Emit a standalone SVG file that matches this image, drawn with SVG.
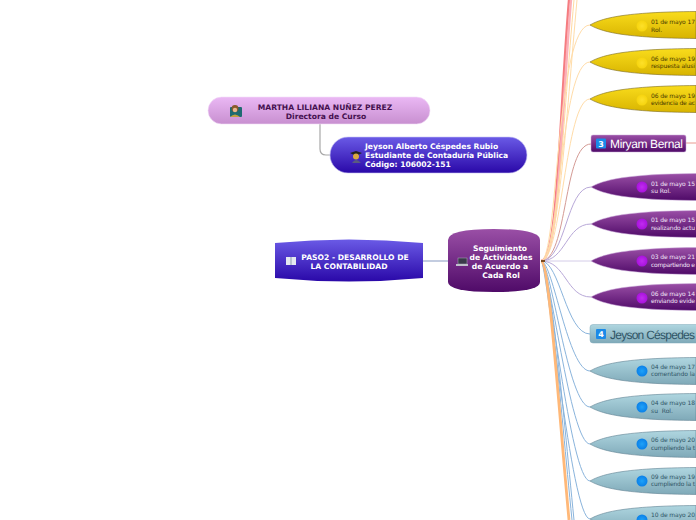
<svg xmlns="http://www.w3.org/2000/svg" width="696" height="520" viewBox="0 0 696 520">
<defs>
<linearGradient id="gY" x1="0" y1="0" x2="0" y2="1"><stop offset="0" stop-color="#f9dc1c"/><stop offset="1" stop-color="#d8b400"/></linearGradient>
<linearGradient id="gP" x1="0" y1="0" x2="0" y2="1"><stop offset="0" stop-color="#9a4fa6"/><stop offset="1" stop-color="#4f0a68"/></linearGradient>
<linearGradient id="gB" x1="0" y1="0" x2="0" y2="1"><stop offset="0" stop-color="#afd6e0"/><stop offset="1" stop-color="#7fa9b8"/></linearGradient>
<linearGradient id="gI" x1="0" y1="0" x2="0" y2="1"><stop offset="0" stop-color="#6a5ae6"/><stop offset="1" stop-color="#2a08a8"/></linearGradient>
<linearGradient id="gL" x1="0" y1="0" x2="0" y2="1"><stop offset="0" stop-color="#eab8f4"/><stop offset="1" stop-color="#c88fd0"/></linearGradient>
<radialGradient id="dY"><stop offset="0" stop-color="#fde02a"/><stop offset="1" stop-color="#f6d40e"/></radialGradient>
<radialGradient id="dP"><stop offset="0" stop-color="#c02cf0"/><stop offset="1" stop-color="#a812dc"/></radialGradient>
<radialGradient id="dB"><stop offset="0" stop-color="#1fa2f8"/><stop offset="1" stop-color="#0a80e8"/></radialGradient>
<path id="leaf" d="M0 0C12 -7 35 -13 106 -13.500V13.500C35 13 12 7 0 0Z"/>
</defs>
<style>
text{font-family:"DejaVu Sans",Verdana,sans-serif;text-rendering:geometricPrecision}
.b{font-size:7.600px;font-weight:700}
.s{font-size:6px}
.w{fill:#fff}
.c{fill:none}
.ly{fill:url(#gY);stroke:#7a6a20;stroke-width:.6}
.lp{fill:url(#gP);stroke:#c9a8d8;stroke-width:.5}
.lb{fill:url(#gB);stroke:#5f8292;stroke-width:.6}
.ty{fill:#4a3a00}
.tp{fill:#f3e4f8}
.tb{fill:#2f5566}
text.big{font-size:12px;font-family:"Liberation Sans",Arial,sans-serif}
</style>
<g id="connectors" class="c">
<path d="M320 124V149Q320 155 326 155H330" stroke="#a8a8a8" stroke-width="1.200"/>
<path d="M423 261H448" stroke="#c3cce0" stroke-width="2"/>
<path d="M541 261C558 261 559 120 569 0" stroke="#f57c80" stroke-width="2.400"/>
<path d="M541 261C559 261 561 120 571 0" stroke="#fbb0b8" stroke-width="2.400"/>
<path d="M541 261C558 261 563 120 574 0" stroke="#ffd9a0" stroke-width="1"/>
<path d="M541 261C558 261 566 120 577 0" stroke="#ffdca8" stroke-width="1"/>
<path d="M541 261C558 261 556 25 590 25" stroke="#ffdca8" stroke-width="1"/>
<path d="M541 261C560 261 560 62 590 62" stroke="#ffdca8" stroke-width="1"/>
<path d="M541 261C562 261 565 99 590 99" stroke="#ffdca8" stroke-width="1"/>
<path d="M541 261C568 261 563 144 591 144" stroke="#d49a94" stroke-width="1"/>
<path d="M686 143H696" stroke="#e89a90" stroke-width="1"/>
<path d="M541 261C566 261 566 187 591 187" stroke="#b8a8d8" stroke-width="1"/>
<path d="M541 261C566 261 566 224 591 224" stroke="#b8a8d8" stroke-width="1"/>
<path d="M541 261H591" stroke="#d4cce8" stroke-width="1"/>
<path d="M541 261C566 261 566 297 591 297" stroke="#b8a8d8" stroke-width="1"/>
<path d="M541 261C560 261 566 334 590 334" stroke="#8ab4dc" stroke-width="1"/>
<path d="M541 261C553 261 568 371 590 371" stroke="#8ab4dc" stroke-width="1"/>
<path d="M541 261C551 261 568 407 590 407" stroke="#8ab4dc" stroke-width="1"/>
<path d="M541 261C549 261 570 444 590 444" stroke="#8ab4dc" stroke-width="1"/>
<path d="M541 261C548 261 570 481 590 481" stroke="#8ab4dc" stroke-width="1"/>
<path d="M541 261C547 261 571 519 590 519" stroke="#8ab4dc" stroke-width="1"/>
<path d="M541 261C550 261 562 400 574 520" stroke="#8ab4dc" stroke-width="1"/>
<path d="M541 261C549 261 560 400 572 520" stroke="#8ab4dc" stroke-width="1"/>
<path d="M541 261C549 261 558 400 569 520" stroke="#ffb878" stroke-width="2.800"/>
<path d="M541 261H545" stroke="#7a4a20" stroke-width="2"/>
</g>
<g id="n-martha">
<rect x="208" y="97" width="222" height="27" rx="13.500" fill="url(#gL)" stroke="#f4def8" stroke-width=".6"/>
<rect x="230" y="107" width="12" height="10" rx="1" fill="#1f6a70"/><circle cx="235" cy="108.500" r="3.400" fill="#8a5a2a"/><circle cx="235" cy="110" r="2.200" fill="#e8b890"/><path d="M230 117Q235 112 240 117Z" fill="#c0a040"/>
<text class="b" x="325" y="109.500" text-anchor="middle" fill="#45104f">MARTHA LILIANA NUÑEZ PEREZ</text>
<text class="b" x="326" y="118.500" text-anchor="middle" fill="#45104f">Directora de Curso</text>
</g>
<g id="n-jeyson-alberto">
<rect x="330" y="137" width="197" height="36" rx="18" fill="url(#gI)" stroke="#c8c4f4" stroke-width=".6"/>
<path d="M350 153L356 151L362 153L356 156Z" fill="#222"/><circle cx="356" cy="156.500" r="3" fill="#d9a840"/><path d="M352 163Q356 157 361 163Z" fill="#5a5a80"/>
<text class="b w" x="365" y="149">Jeyson Alberto Céspedes Rubio</text>
<text class="b w" x="365" y="158">Estudiante de Contaduría Pública</text>
<text class="b w" x="365" y="167">Código: 106002-151</text>
</g>
<g id="n-paso2">
<path d="M275 243Q349 236 423 243V278Q349 285 275 278Z" fill="url(#gI)"/>
<path d="M286 257H296V265H286Z" fill="#e4e8f0"/><path d="M291 257V265" stroke="#8a9ab0"/>
<text class="b w" x="355" y="259.500" text-anchor="middle">PASO2 - DESARROLLO DE</text>
<text class="b w" x="349" y="268.500" text-anchor="middle">LA CONTABILIDAD</text>
</g>
<g id="n-seguimiento">
<path d="M448 240Q448 229 494 229Q540 229 540 240V282Q540 292 494 292Q448 292 448 282Z" fill="url(#gP)"/>
<rect x="458" y="258" width="9" height="6" fill="#3a3a4a" stroke="#b0b0c0" stroke-width=".5"/><rect x="456" y="264" width="12" height="2" fill="#c0c0cc"/>
<text class="b w" x="500" y="250.500" text-anchor="middle">Seguimiento</text>
<text class="b w" x="501" y="259.500" text-anchor="middle">de Actividades</text>
<text class="b w" x="500" y="268.500" text-anchor="middle">de Acuerdo a</text>
<text class="b w" x="501" y="277.500" text-anchor="middle">Cada Rol</text>
</g>
<g id="n-y1"><use href="#leaf" x="590" y="25" class="ly"/><circle cx="642" cy="26" r="5.500" fill="url(#dY)"/><text class="s ty" x="651" y="24" textLength="44">01 de mayo 17</text><text class="s ty" x="651" y="32">Rol.</text></g>
<g id="n-y2"><use href="#leaf" x="590" y="62" class="ly"/><circle cx="642" cy="63" r="5.500" fill="url(#dY)"/><text class="s ty" x="651" y="61" textLength="44">06 de mayo 19</text><text class="s ty" x="651" y="68" textLength="44">respuesta alusi</text></g>
<g id="n-y3"><use href="#leaf" x="590" y="99" class="ly"/><circle cx="642" cy="100" r="5.500" fill="url(#dY)"/><text class="s ty" x="651" y="98" textLength="44">06 de mayo 19</text><text class="s ty" x="651" y="105" textLength="44">evidencia de ac</text></g>
<g id="n-miryam">
<rect x="591" y="135" width="95" height="17" rx="2" fill="url(#gP)" stroke="#c9a8d8" stroke-width=".5"/>
<rect x="596" y="138.500" width="10" height="10" rx="1" fill="#1a8ae8"/><text x="601" y="146.500" text-anchor="middle" font-size="8" font-weight="700" fill="#fff">3</text>
<text class="big w" x="610" y="148" textLength="73">Miryam Bernal</text>
</g>
<g id="n-p1"><use href="#leaf" x="591" y="187" class="lp"/><circle cx="642" cy="187" r="5.500" fill="url(#dP)"/><text class="s tp" x="651" y="186" textLength="44">01 de mayo 15</text><text class="s tp" x="651" y="193">su Rol.</text></g>
<g id="n-p2"><use href="#leaf" x="591" y="224" class="lp"/><circle cx="642" cy="224" r="5.500" fill="url(#dP)"/><text class="s tp" x="651" y="222" textLength="44">01 de mayo 15</text><text class="s tp" x="651" y="230" textLength="44">realizando actu</text></g>
<g id="n-p3"><use href="#leaf" x="591" y="261" class="lp"/><circle cx="642" cy="261" r="5.500" fill="url(#dP)"/><text class="s tp" x="651" y="259" textLength="44">03 de mayo 21</text><text class="s tp" x="651" y="267" textLength="44">compartiendo e</text></g>
<g id="n-p4"><use href="#leaf" x="591" y="297" class="lp"/><circle cx="642" cy="298" r="5.500" fill="url(#dP)"/><text class="s tp" x="651" y="296" textLength="44">06 de mayo 14</text><text class="s tp" x="651" y="303" textLength="44">enviando evide</text></g>
<g id="n-jeyson">
<rect x="590" y="324.500" width="112" height="18.500" rx="3" fill="url(#gB)" stroke="#7fa9b8" stroke-width=".5"/>
<rect x="596" y="329" width="10" height="10" rx="1" fill="#1a8ae8"/><text x="601" y="337" text-anchor="middle" font-size="8" font-weight="700" fill="#fff">4</text>
<text class="big" x="610" y="338.500" fill="#2f5566" textLength="85">Jeyson Céspedes</text>
</g>
<g id="n-b1"><use href="#leaf" x="590" y="371" class="lb"/><circle cx="642" cy="371" r="5.500" fill="url(#dB)"/><text class="s tb" x="651" y="369" textLength="44">04 de mayo 17</text><text class="s tb" x="651" y="376" textLength="44">comentando la</text></g>
<g id="n-b2"><use href="#leaf" x="590" y="407" class="lb"/><circle cx="642" cy="407" r="5.500" fill="url(#dB)"/><text class="s tb" x="651" y="405" textLength="44">04 de mayo 18</text><text class="s tb" x="651" y="413" xml:space="preserve">su  Rol.</text></g>
<g id="n-b3"><use href="#leaf" x="590" y="444" class="lb"/><circle cx="642" cy="444" r="5.500" fill="url(#dB)"/><text class="s tb" x="651" y="442" textLength="44">06 de mayo 20</text><text class="s tb" x="651" y="450" textLength="44">cumpliendo la t</text></g>
<g id="n-b4"><use href="#leaf" x="590" y="481" class="lb"/><circle cx="642" cy="481" r="5.500" fill="url(#dB)"/><text class="s tb" x="651" y="479" textLength="44">09 de mayo 19</text><text class="s tb" x="651" y="486" textLength="44">cumpliendo la t</text></g>
<g id="n-b5"><use href="#leaf" x="590" y="519" class="lb"/><circle cx="642" cy="520" r="5.500" fill="url(#dB)"/><text class="s tb" x="651" y="517" textLength="44">10 de mayo 20</text></g>
</svg>
